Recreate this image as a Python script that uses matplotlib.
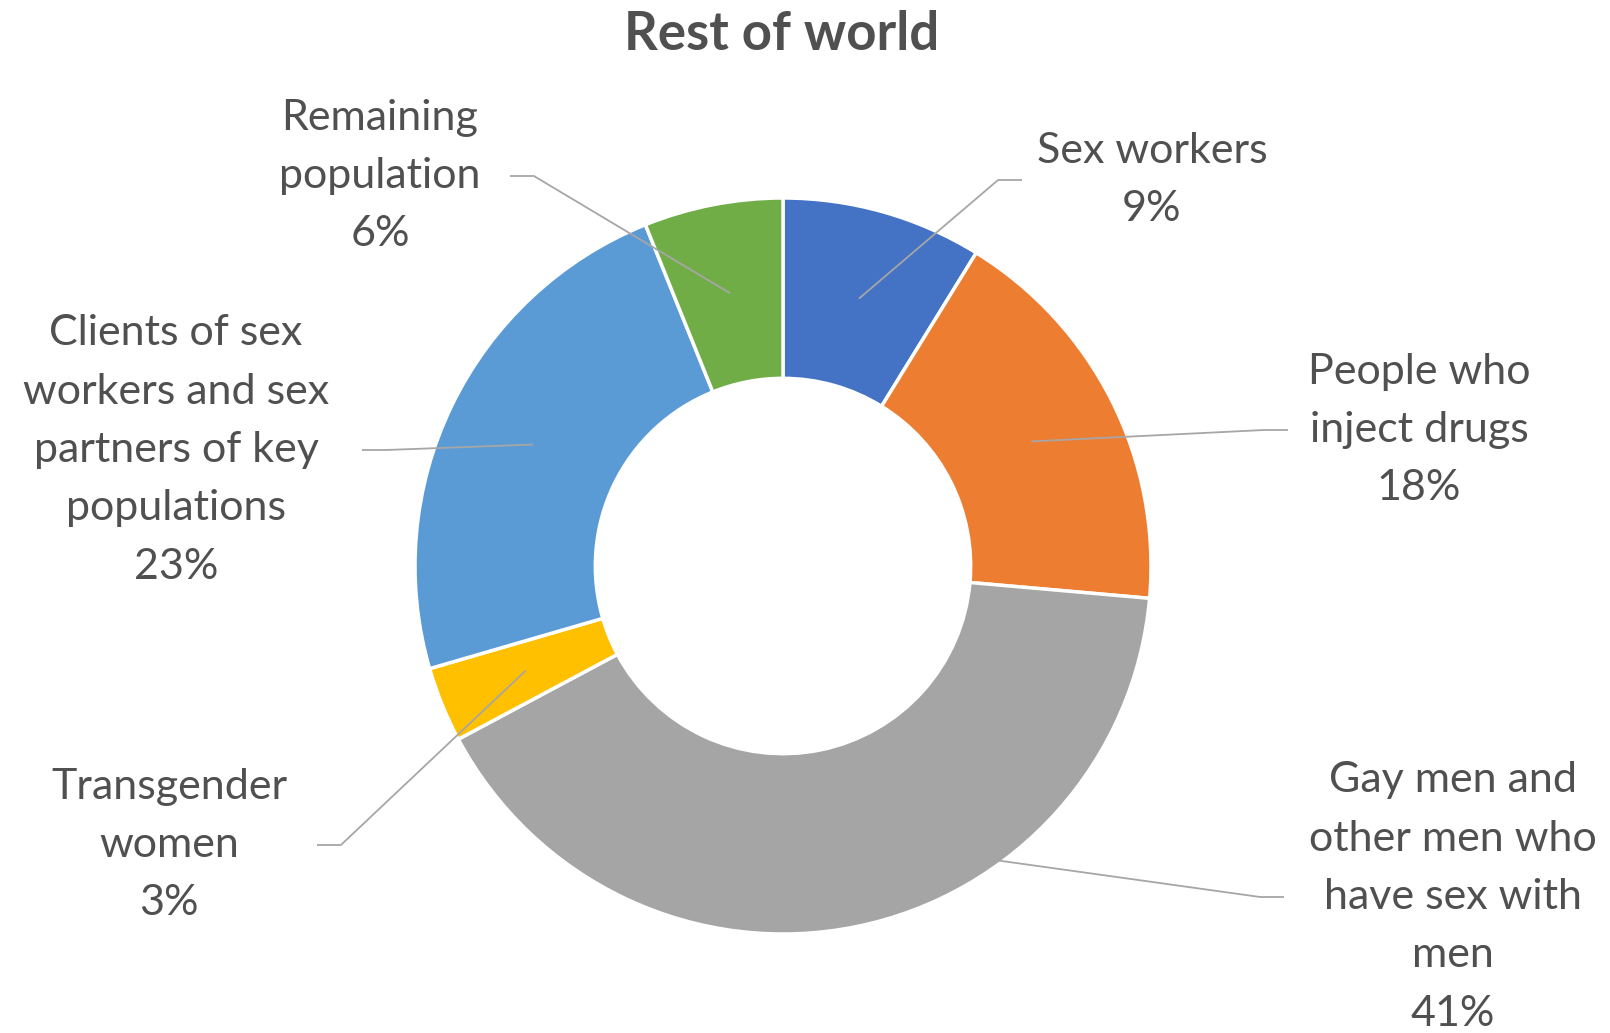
import matplotlib
matplotlib.use("Agg")
import matplotlib.pyplot as plt
import numpy as np

# Data (share of new HIV infections, rest of world)
groups = [
    "Sex workers",
    "People who\ninject drugs",
    "Gay men and\nother men who\nhave sex with\nmen",
    "Transgender\nwomen",
    "Clients of sex\nworkers and sex\npartners of key\npopulations",
    "Remaining\npopulation",
]
shares = [8.8, 17.6, 40.8, 3.3, 23.4, 6.1]
colors = ["#4472C4", "#ED7D31", "#A5A5A5", "#FFC000", "#5B9BD5", "#70AD47"]

# Label layout in image pixels: (centre x, centre y, leader end x)
label_pos = [
    (1152, 180, 1022),
    (1419, 430, 1288),
    (1453, 897, 1284),
    (169, 845, 317),
    (176, 450, 362),
    (380, 176, 510),
]

W, H = 1610, 1033
CX, CY, R = 783, 566, 368
TEXT = "#505050"


def px(x, y):
    # pixel position -> data units (pie centre at 0,0, radius 1)
    return (x - CX) / R, (CY - y) / R


plt.rcParams["font.family"] = ["Lato", "DejaVu Sans"]
fig = plt.figure(figsize=(W / 100, H / 100), dpi=100)
ax = fig.add_axes([0, 0, 1, 1])

hole = 0.51
wedges, _ = ax.pie(shares, colors=colors, startangle=90, counterclock=False,
                   radius=1, wedgeprops=dict(width=1 - hole, edgecolor="white",
                                             linewidth=2.5))

ax.set_xlim(-CX / R, (W - CX) / R)
ax.set_ylim((CY - H) / R, CY / R)
ax.set_aspect("equal")
ax.axis("off")

for w, name, val, (lx, ly, ex) in zip(wedges, groups, shares, label_pos):
    mid = np.deg2rad((w.theta1 + w.theta2) / 2)
    rm = (1 + hole) / 2
    wx, wy = rm * np.cos(mid), rm * np.sin(mid)
    tx, ty = px(ex, ly)
    elbow = tx + (0.065 if tx < 0 else -0.065)
    ax.plot([wx, elbow, tx], [wy, ty, ty], color="#A6A6A6", lw=1.3,
            solid_capstyle="butt", zorder=3)
    x, y = px(lx, ly)
    ax.text(x, y, f"{name}\n{val:.0f}%", ha="center", va="center",
            multialignment="center", fontsize=31, color=TEXT,
            linespacing=1.66)

tx, ty = px(782, 35)
ax.text(tx, ty, "Rest of world", ha="center", va="center", fontsize=38,
        fontweight="bold", color=TEXT)

plt.savefig("out.png", dpi=100)
